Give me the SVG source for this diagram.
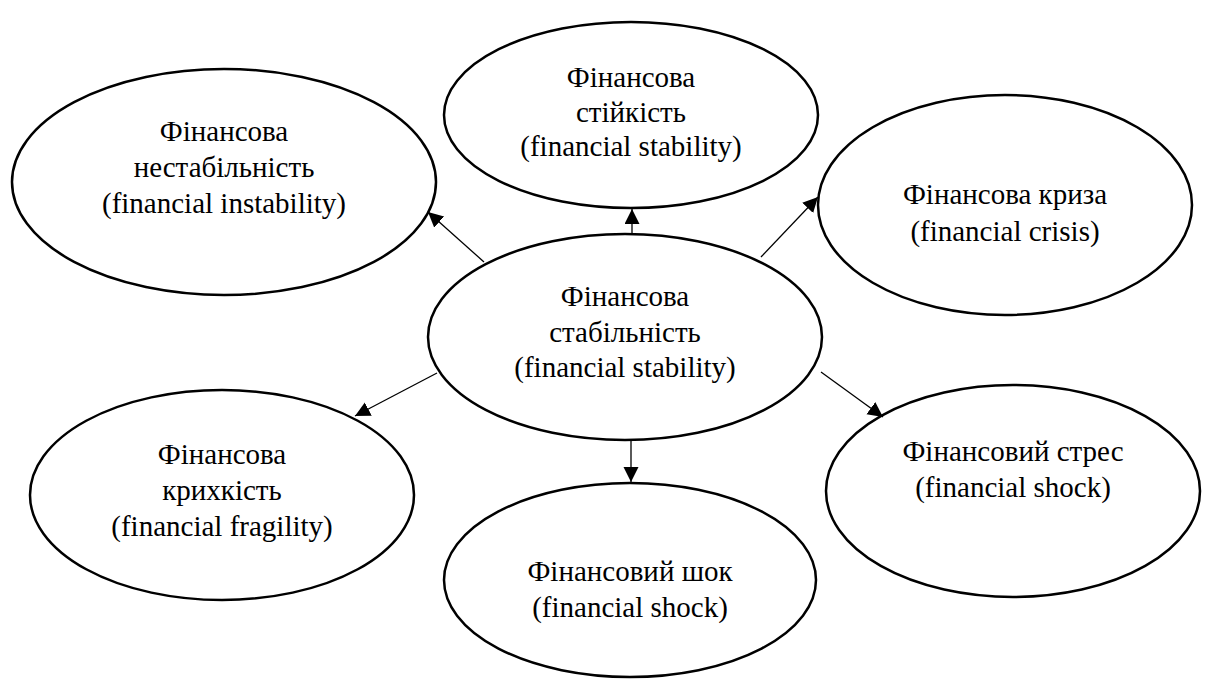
<svg xmlns="http://www.w3.org/2000/svg" width="1210" height="680" viewBox="0 0 1210 680">
<style>
.node ellipse{fill:#fff;stroke:#000;stroke-width:2.5}
.node text{font-family:"Liberation Serif","Times New Roman",serif;font-size:29px;fill:#000;text-anchor:middle}
.conn line{stroke:#000;stroke-width:1.3}
</style>
<defs>
<marker id="arr" markerUnits="userSpaceOnUse" markerWidth="16" markerHeight="16" refX="15" refY="7.5" orient="auto">
<path d="M0,0 L15,7.5 L0,15 z" fill="#000"/>
</marker>
</defs>
<rect width="1210" height="680" fill="#fff"/>
<g id="n-instability" class="node">
<ellipse cx="224" cy="182" rx="212" ry="113"/>
<text x="224" y="141">Фінансова</text>
<text x="224" y="177">нестабільність</text>
<text x="224" y="213">(financial instability)</text>
</g>
<g id="n-stiikist" class="node">
<ellipse cx="631" cy="115" rx="187" ry="93"/>
<text x="631" y="87">Фінансова</text>
<text x="631" y="122">стійкість</text>
<text x="631" y="156">(financial stability)</text>
</g>
<g id="n-crisis" class="node">
<ellipse cx="1005" cy="205" rx="187" ry="110"/>
<text x="1005" y="204">Фінансова криза</text>
<text x="1005" y="241">(financial crisis)</text>
</g>
<g id="n-center" class="node">
<ellipse cx="625" cy="337" rx="197" ry="103"/>
<text x="625" y="306">Фінансова</text>
<text x="625" y="342">стабільність</text>
<text x="625" y="377">(financial stability)</text>
</g>
<g id="n-fragility" class="node">
<ellipse cx="222" cy="495" rx="192" ry="105"/>
<text x="222" y="464">Фінансова</text>
<text x="222" y="500">крихкість</text>
<text x="222" y="536">(financial fragility)</text>
</g>
<g id="n-shock" class="node">
<ellipse cx="630" cy="580" rx="186" ry="97"/>
<text x="630" y="581">Фінансовий шок</text>
<text x="630" y="617">(financial shock)</text>
</g>
<g id="n-stress" class="node">
<ellipse cx="1013" cy="491" rx="187" ry="106"/>
<text x="1013" y="461">Фінансовий стрес</text>
<text x="1013" y="497">(financial shock)</text>
</g>
<g id="connectors" class="conn">
<line x1="632" y1="234" x2="632" y2="209" marker-end="url(#arr)"/>
<line x1="484" y1="262" x2="428" y2="212" marker-end="url(#arr)"/>
<line x1="761" y1="257" x2="818" y2="197" marker-end="url(#arr)"/>
<line x1="437" y1="373" x2="355" y2="416" marker-end="url(#arr)"/>
<line x1="631" y1="439" x2="631" y2="482" marker-end="url(#arr)"/>
<line x1="821" y1="372" x2="883" y2="417" marker-end="url(#arr)"/>
</g>
</svg>
